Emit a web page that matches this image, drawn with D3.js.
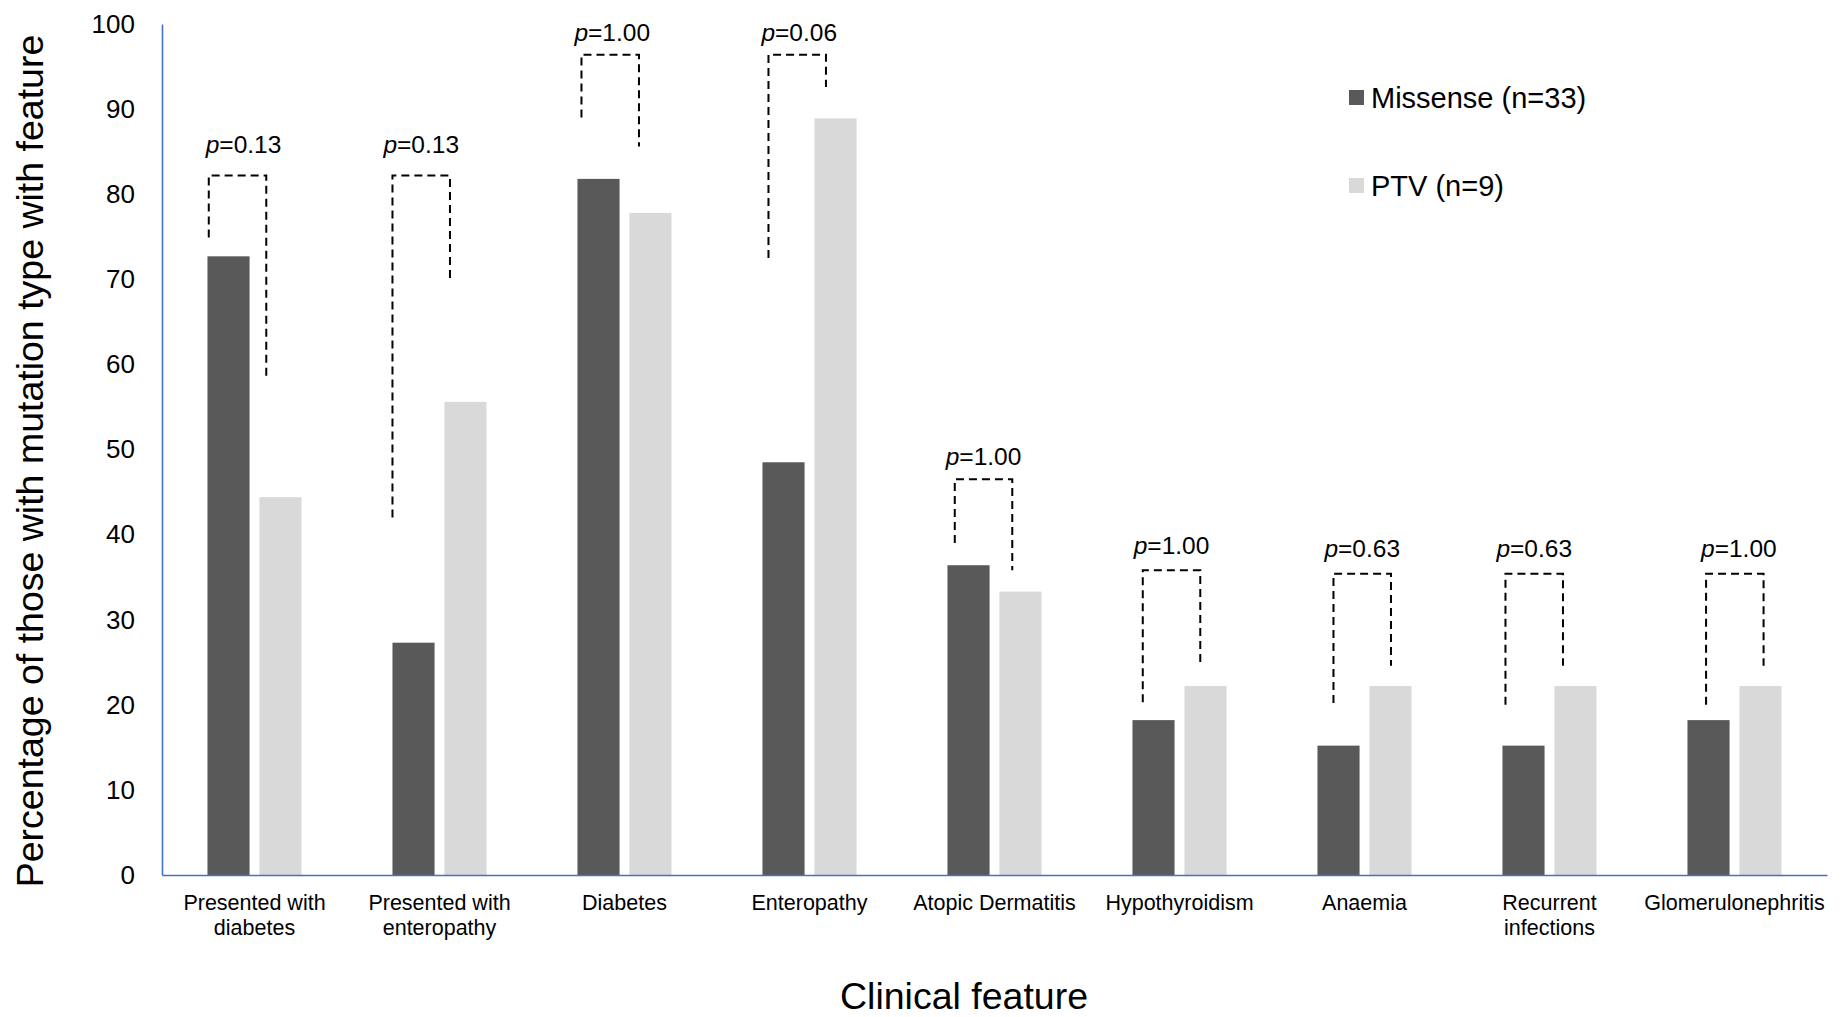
<!DOCTYPE html>
<html lang="en">
<head>
  <meta charset="UTF-8" />
  <title>Clinical features by mutation type</title>
  <script src="https://d3js.org/d3.v7.min.js"></script>
  <style>
    body {
      margin: 0;
      background: #fff;
      font-family: "Liberation Sans", Arial, sans-serif;
    }
    svg { display: block; }
    .axis path { stroke: #4472c4; stroke-width: 1.6; }
    .axis text { fill: #000; font-family: "Liberation Sans", Arial, sans-serif; }
    .y-axis text { font-size: 26px; }
    .cat-label { font-size: 21.5px; fill: #000; text-anchor: middle; }
    .title { font-size: 37.5px; fill: #000; text-anchor: middle; }
    .legend-text { font-size: 29px; fill: #000; }
    .p-label { font-size: 24.5px; fill: #000; text-anchor: middle; }
    .bracket { fill: none; stroke: #000; stroke-width: 2; stroke-dasharray: 8 5; }
  </style>
</head>
<body>
<svg id="chart"></svg>
<script>
// Data
const categories = [
  "Presented with\ndiabetes", "Presented with\nenteropathy", "Diabetes", "Enteropathy",
  "Atopic Dermatitis", "Hypothyroidism", "Anaemia", "Recurrent\ninfections", "Glomerulonephritis"
];
const series = ["Missense (n=33)", "PTV (n=9)"];
const missense = [72.7, 27.3, 81.8, 48.5, 36.4, 18.2, 15.2, 15.2, 18.2];
const ptv = [44.4, 55.6, 77.8, 88.9, 33.3, 22.2, 22.2, 22.2, 22.2];
const yTicks = [0, 10, 20, 30, 40, 50, 60, 70, 80, 90, 100];

// significance brackets (heights in % units)
const pValues = ["0.13", "0.13", "1.00", "0.06", "1.00", "1.00", "0.63", "0.63", "1.00"];
const bracketTop = [82.2, 82.2, 96.4, 96.4, 46.5, 35.8, 35.4, 35.4, 35.4];
const bracketLeftEnd = [74.9, 42.0, 89.0, 72.5, 39.0, 20.3, 20.2, 20.0, 20.0];
const bracketRightEnd = [58.3, 69.8, 85.6, 92.6, 35.8, 25.0, 24.6, 24.6, 24.6];

// Layout
const W = 1842, H = 1017;
const plotLeft = 162, plotRight = 1827, plotTop = 24, plotBottom = 875;
const colors = {"Missense (n=33)": "#595959", "PTV (n=9)": "#d9d9d9"};
const bracketNudge = [1.3, 0, 4, 6, 7.3, 10.3, 16, 3, 18.6];
const bracketWidth = 57.5;
// hand-placed p label offsets (px): horizontal shift, gap above bracket
const labelDx = [6, 0, 2, 2, 0, 0, 0, 0, 4];
const labelGap = [22, 22, 14, 14, 14.5, 16.5, 16.5, 16.5, 16.5];

const svg = d3.select("#chart").attr("width", W).attr("height", H);

const x0 = d3.scaleBand().domain(categories).range([plotLeft, plotRight]).padding(0);
const x1 = d3.scaleBand().domain(series).range([0, x0.bandwidth()])
  .paddingInner(0.19).paddingOuter(0.875);
const y = d3.scaleLinear().domain([0, 100]).range([plotBottom, plotTop]);

const rows = categories.map((c, i) => ({cat: c, vals: [missense[i], ptv[i]]}));

// bars
const groups = svg.append("g").selectAll("g")
  .data(rows)
  .join("g")
  .attr("transform", d => `translate(${x0(d.cat)},0)`);

groups.selectAll("rect")
  .data(d => d.vals.map((v, k) => ({key: series[k], value: v})))
  .join("rect")
  .attr("x", d => x1(d.key))
  .attr("width", x1.bandwidth())
  .attr("y", d => y(d.value))
  .attr("height", d => y(0) - y(d.value))
  .attr("fill", d => colors[d.key]);

// y axis
svg.append("g")
  .attr("class", "axis y-axis")
  .attr("transform", `translate(${plotLeft},0)`)
  .call(d3.axisLeft(y).tickValues(yTicks).tickSize(0).tickSizeOuter(0).tickPadding(27));

// x axis
const xAxis = svg.append("g")
  .attr("class", "axis x-axis")
  .attr("transform", `translate(0,${plotBottom})`)
  .call(d3.axisBottom(x0).tickSize(0).tickSizeOuter(0).tickFormat(""));
xAxis.selectAll(".tick text").remove();

const catLabels = svg.append("g").selectAll("text")
  .data(categories)
  .join("text")
  .attr("class", "cat-label")
  .attr("x", d => x0(d) + x0.bandwidth() / 2)
  .attr("y", 910);
catLabels.selectAll("tspan")
  .data(d => d.split("\n"))
  .join("tspan")
  .attr("x", function () { return d3.select(this.parentNode).attr("x"); })
  .attr("dy", (d, i) => i === 0 ? 0 : 25)
  .text(d => d);

// brackets
const bracketData = categories.map((c, i) => {
  const xl = x0(c) + x1(series[0]) + bracketNudge[i];
  return {
    i, xl, xr: xl + bracketWidth,
    top: y(bracketTop[i]), le: y(bracketLeftEnd[i]), re: y(bracketRightEnd[i]),
    p: pValues[i]
  };
});

svg.append("g").selectAll("path")
  .data(bracketData)
  .join("path")
  .attr("class", "bracket")
  .attr("d", d => `M${d.xl},${d.le}V${d.top}H${d.xr}V${d.re}`);

const pText = svg.append("g").selectAll("text")
  .data(bracketData)
  .join("text")
  .attr("class", "p-label")
  .attr("x", d => (d.xl + d.xr) / 2 + labelDx[d.i])
  .attr("y", d => d.top - labelGap[d.i]);
pText.append("tspan").attr("font-style", "italic").text("p");
pText.append("tspan").text(d => "=" + d.p);

// legend
const legend = svg.append("g").selectAll("g")
  .data(series)
  .join("g")
  .attr("transform", (d, i) => `translate(1349,${90 + i * 88})`);
legend.append("rect")
  .attr("width", 15).attr("height", 15)
  .attr("fill", d => colors[d]);
legend.append("text")
  .attr("class", "legend-text")
  .attr("x", 22).attr("y", 8)
  .attr("dy", "0.35em")
  .text(d => d);

// titles
svg.append("text")
  .attr("class", "title")
  .attr("transform", "translate(30,461) rotate(-90)")
  .attr("dy", "0.35em")
  .text("Percentage of those with mutation type with feature");

svg.append("text")
  .attr("class", "title")
  .attr("x", 964)
  .attr("y", 1009)
  .text("Clinical feature");
</script>
</body>
</html>
